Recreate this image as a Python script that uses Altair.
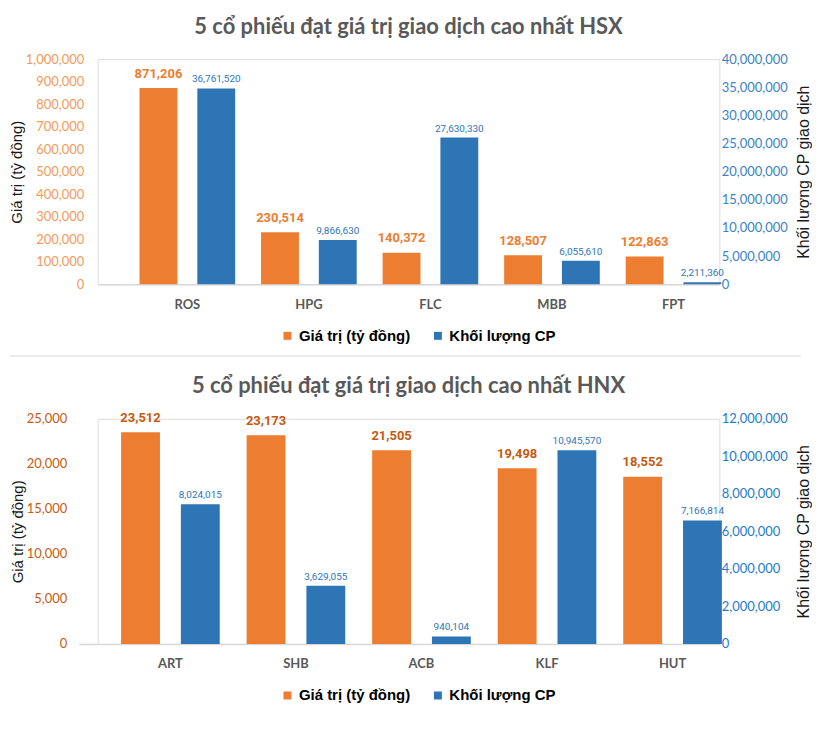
import altair as alt
import pandas as pd

# ---------------- data ----------------
hsx_codes = ["ROS", "HPG", "FLC", "MBB", "FPT"]
hsx_value = [871206, 230514, 140372, 128507, 122863]              # Giá trị (tỷ đồng)
hsx_volume_label = [36761520, 9866630, 27630330, 6055610, 2211360]  # printed labels
hsx_volume_bar = [34800000, 7880000, 26060000, 4200000, 350000]     # drawn bar heights

hnx_codes = ["ART", "SHB", "ACB", "KLF", "HUT"]
hnx_value = [23512, 23173, 21505, 19498, 18552]
hnx_volume_label = [8024015, 3629055, 940104, 10945570, 7166814]
hnx_volume_bar = [7450000, 3100000, 400000, 10320000, 6580000]

SERIES = ["Giá trị (tỷ đồng)", "Khối lượng CP"]
ORANGE = "#ED7D31"
BLUE = "#2E75B6"
PLOT_W = 624


def panel(title, codes, value, vol_bar, vol_label, *, left_max, left_step,
          right_max, right_step, left_label_color, value_label_color,
          right_label_color, left_label_pad, left_offset, pad_inner, pad_outer, align,
          bar_w, off, legend_x, separator=False):
    df = pd.DataFrame({
        "code": codes,
        "value": value,
        "vol_bar": vol_bar,
        "vol_label": vol_label,
        "s_val": SERIES[0],
        "s_vol": SERIES[1],
    })
    base = alt.Chart(df)
    x = alt.X("code:N", sort=codes,
              scale=alt.Scale(range=[-left_offset, PLOT_W], paddingInner=pad_inner,
                              paddingOuter=pad_outer, align=align),
              axis=alt.Axis(title=None, labelAngle=0, labelFont="Lato", labelFontWeight="bold",
                            labelFontSize=13, labelColor="#595959", ticks=False,
                            domainColor="#D9D9D9", domainWidth=1.5, labelPadding=14))
    color_scale = alt.Scale(domain=SERIES, range=[ORANGE, BLUE])
    legend = alt.Legend(title=None, orient="none", legendX=legend_x, legendY=270,
                        direction="horizontal", symbolType="square", symbolSize=64,
                        symbolStrokeWidth=0, labelFont="Liberation Sans", labelFontWeight="bold",
                        labelFontSize=15, labelColor="#000000", labelOffset=4,
                        columnPadding=20, labelLimit=300)

    left_axis = alt.Axis(title="Giá trị (tỷ đồng)", values=list(range(0, left_max + 1, left_step)),
                         format=",.0f", grid=False, ticks=False, domain=False,
                         offset=left_offset,
                         labelFont="Lato", labelFontSize=13, labelColor=left_label_color,
                         labelPadding=left_label_pad, titleFont="Liberation Sans",
                         titleFontSize=15, titleFontWeight="normal", titleColor="#1a1a1a",
                         titlePadding=1)
    right_axis = alt.Axis(title="Khối lượng CP giao dịch", orient="right",
                          values=list(range(0, right_max + 1, right_step)),
                          format=",.0f", grid=False, ticks=False, domain=False,
                          labelFont="Lato", labelFontSize=13, labelColor=right_label_color,
                          labelPadding=2, titleFont="Liberation Sans", titleFontSize=16,
                          titleFontWeight="normal", titleColor="#1a1a1a", titleAngle=270,
                          titleBaseline="top", titlePadding=8)
    lscale = alt.Scale(domain=[0, left_max], nice=False)
    rscale = alt.Scale(domain=[0, right_max], nice=False)

    left = alt.layer(
        base.mark_bar(width=bar_w, xOffset=-off).encode(
            x=x, y=alt.Y("value:Q", scale=lscale, axis=left_axis),
            color=alt.Color("s_val:N", scale=color_scale, legend=legend)),
        base.mark_text(xOffset=-off, dy=-10.5, baseline="alphabetic",
                       font="Roboto", fontWeight="bold", fontSize=13,
                       color=value_label_color).encode(
            x=x, y=alt.Y("value:Q", scale=lscale, axis=left_axis),
            text=alt.Text("value:Q", format=",")),
    )
    right = alt.layer(
        base.mark_bar(width=bar_w, xOffset=off).encode(
            x=x, y=alt.Y("vol_bar:Q", scale=rscale, axis=right_axis),
            color=alt.Color("s_vol:N", scale=color_scale, legend=legend)),
        base.mark_text(xOffset=off, dy=-6, baseline="alphabetic",
                       font="Roboto", fontSize=10, color=BLUE).encode(
            x=x, y=alt.Y("vol_bar:Q", scale=rscale, axis=right_axis),
            text=alt.Text("vol_label:Q", format=",")),
    )
    if separator:
        sep = alt.Chart(pd.DataFrame({"a": [0]})).mark_rule(color="#D9D9D9", strokeWidth=1).encode(
            x=alt.value(-88), x2=alt.value(706), y=alt.value(298))
        ch = alt.layer(left, right, sep).resolve_scale(y="independent")
    else:
        ch = alt.layer(left, right).resolve_scale(y="independent")
    return ch.properties(
        width=PLOT_W, height=226,
        title=alt.TitleParams(title, font="Lato", fontSize=22, fontWeight="bold",
                              color="#595959", anchor="middle", offset=14))


hsx = panel("5 cổ phiếu đạt giá trị giao dịch cao nhất HSX", hsx_codes, hsx_value,
            hsx_volume_bar, hsx_volume_label, left_max=1000000, left_step=100000,
            right_max=40000000, right_step=5000000, left_label_color="#F59A55",
            value_label_color=ORANGE, right_label_color="#3C82C4", left_label_pad=14,
            left_offset=0, pad_inner=0.344, pad_outer=0.2295, align=0.893, bar_w=38, off=29,
            legend_x=183, separator=True)

hnx = panel("5 cổ phiếu đạt giá trị giao dịch cao nhất HNX", hnx_codes, hnx_value,
            hnx_volume_bar, hnx_volume_label, left_max=25000, left_step=5000,
            right_max=12000000, right_step=2000000, left_label_color="#C55A11",
            value_label_color="#C55A11", right_label_color="#1F7BC8", left_label_pad=12,
            left_offset=19, pad_inner=0.365, pad_outer=0.234, align=0.882, bar_w=39, off=30,
            legend_x=183)

chart = alt.vconcat(hsx, hnx, spacing=17).resolve_scale(color="independent").properties(
    padding={"left": 0, "top": 6, "right": 0, "bottom": 0}
).configure_view(stroke=None).configure(background="white")

chart.save("out.html", embed_options={"renderer": "svg", "actions": False})
